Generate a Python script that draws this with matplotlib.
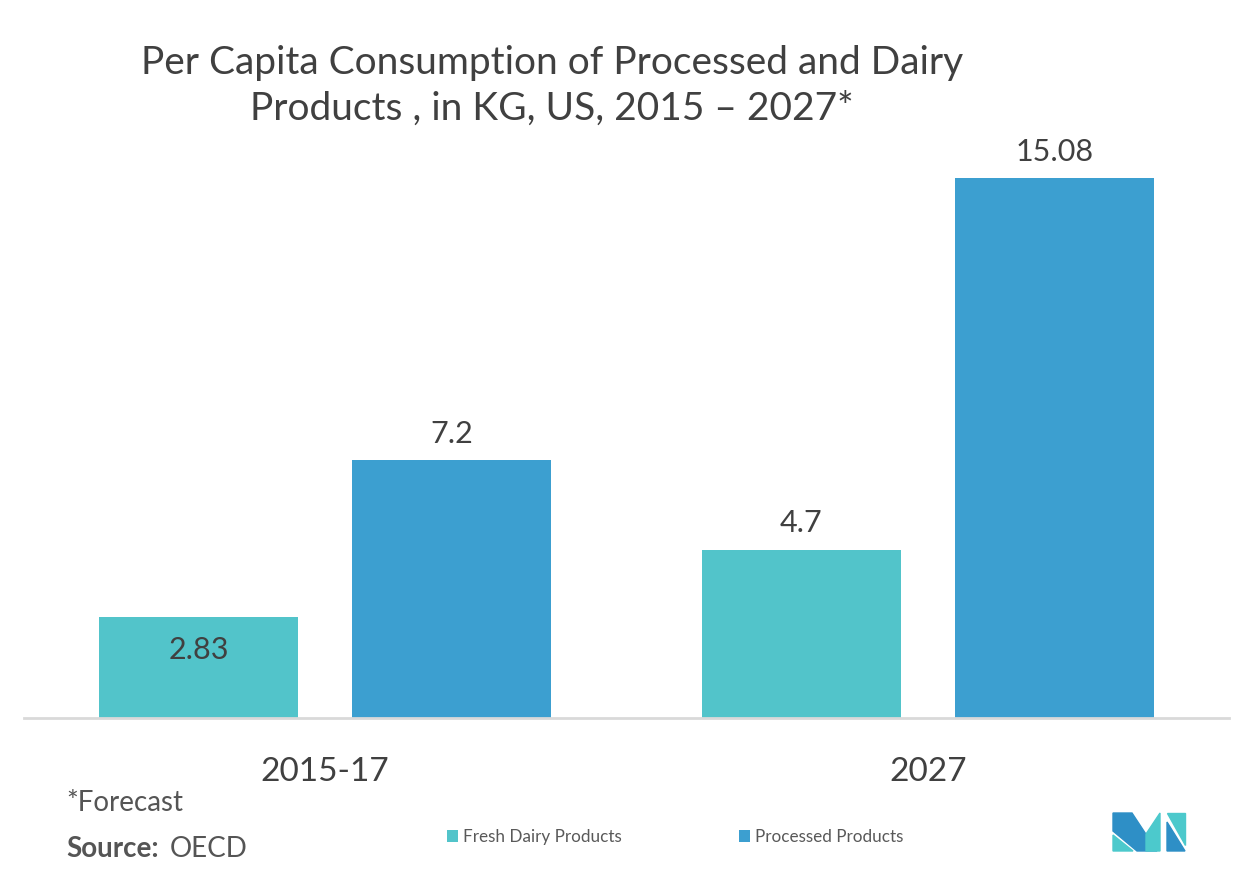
import matplotlib.pyplot as plt
import numpy as np
from matplotlib.patches import Polygon

plt.rcParams['font.family'] = ['Lato', 'DejaVu Sans']

# data
groups = ['2015-17', '2027']
series = ['Fresh Dairy Products', 'Processed Products']
fresh = [2.83, 4.7]
processed = [7.2, 15.08]
colors = ['#52C4CA', '#3C9FD0']
text_col = '#404040'

fig = plt.figure(figsize=(12.53, 8.84), dpi=100)
ax = fig.add_axes([24 / 1253, 1 - 718 / 884, 1205 / 1253, (718 - 150) / 884])

x = np.arange(len(groups))
w = 0.33
off = 0.21
b1 = ax.bar(x - off, fresh, w, color=colors[0], label=series[0])
b2 = ax.bar(x + off, processed, w, color=colors[1], label=series[1])

ax.set_xlim(-0.5, 1.5)
ax.set_ylim(0, (718 - 150) / 35.8)

for rect, v in zip(list(b1) + list(b2), fresh + processed):
    cx = rect.get_x() + rect.get_width() / 2
    if v < 3:
        ax.text(cx, v - 0.55, f'{v:g}', ha='center', va='top', fontsize=22, color=text_col)
    else:
        ax.text(cx, v + 0.35, f'{v:g}', ha='center', va='bottom', fontsize=22, color=text_col)

ax.set_xticks(x)
ax.set_xticklabels(groups, fontsize=24, color=text_col)
ax.tick_params(axis='x', length=0, pad=28)
ax.set_yticks([])
for s in ['top', 'right', 'left']:
    ax.spines[s].set_visible(False)
ax.spines['bottom'].set_color('#d9d9d9')
ax.spines['bottom'].set_linewidth(2)

fig.text(552 / 1253, 1 - 86 / 884, 'Per Capita Consumption of Processed and Dairy\nProducts , in KG, US, 2015 – 2027*',
         ha='center', va='center', fontsize=28, color=text_col, linespacing=1.32)

fig.text(66 / 1253, 1 - 803 / 884, '*Forecast', ha='left', va='center', fontsize=20, color='#555555')
fig.text(66 / 1253, 1 - 849 / 884, 'Source:', ha='left', va='center', fontsize=20, color='#555555', fontweight='bold')
fig.text(170 / 1253, 1 - 849 / 884, 'OECD', ha='left', va='center', fontsize=20, color='#555555')

leg = fig.legend(handles=[b1, b2], labels=series, loc='center', bbox_to_anchor=(675 / 1253, 1 - 837 / 884),
                 ncol=2, frameon=False, fontsize=12.3, handlelength=0.65, handleheight=0.65,
                 handletextpad=0.3, columnspacing=6.85)
for t in leg.get_texts():
    t.set_color('#595959')

# logo
def px(pts):
    return [(a / 1253, 1 - b / 884) for a, b in pts]

dark = '#2E8FC6'
teal = '#4CC9CC'
logo = [
    (px([(1113, 813), (1132, 813), (1157, 851), (1137, 851), (1113, 831)]), dark),
    (px([(1113, 835), (1133, 851), (1113, 851)]), teal),
    (px([(1146, 834), (1160, 813), (1160, 851), (1146, 851)]), teal),
    (px([(1167, 813), (1185, 813), (1185, 845)]), teal),
    (px([(1167, 822), (1185, 851), (1167, 851)]), dark),
]
for pts, c in logo:
    fig.add_artist(Polygon(pts, closed=True, color=c, transform=fig.transFigure))

fig.savefig('out.png', dpi=100)
